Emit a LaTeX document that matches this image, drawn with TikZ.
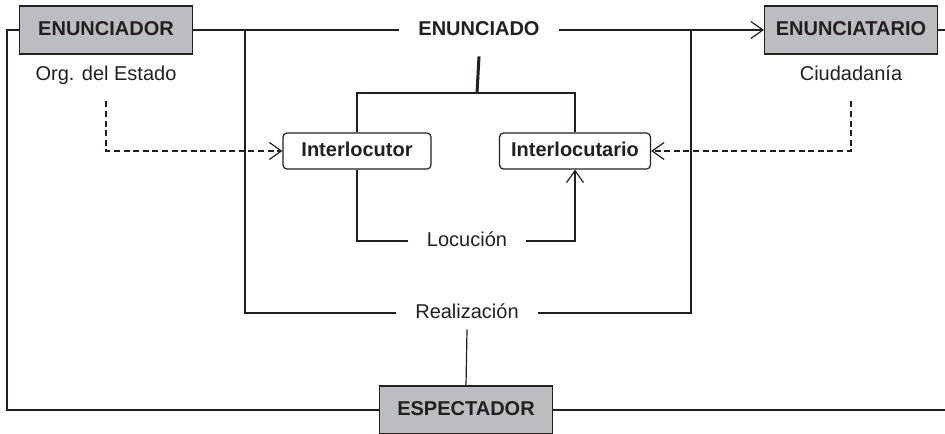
\documentclass[tikz,border=0pt]{standalone}
\usepackage{fontspec}
\setmainfont{Liberation Sans}
\usetikzlibrary{positioning,arrows.meta}
\usepackage{xcolor}
\definecolor{boxgray}{HTML}{BCBDC0}
\definecolor{ink}{HTML}{231F20}

\tikzset{
  actor/.style={rectangle,draw=ink,fill=boxgray,line width=0.6pt,
    minimum width=86.5pt,minimum height=24pt,font=\bfseries},
  role/.style={rectangle,rounded corners=2pt,draw=ink,line width=0.6pt,
    minimum height=18pt,font=\bfseries},
  lbl/.style={inner xsep=9.5pt},
  link/.style={draw=ink,line width=0.6pt},
  tip/.style={-{Straight Barb[length=6pt,width=8.5pt]}},
  hint/.style={dash pattern=on 3pt off 1.8pt}
}

\begin{document}
\begin{tikzpicture}[x=0.5pt,y=-0.5pt,text height=7.2pt,text depth=2.1pt,
    every node/.append style={text=ink}]
        \useasboundingbox (0,0) rectangle (945,433);
        \node (enr) [actor] at (106,30) {ENUNCIADOR};
        \node (ent) [actor] at (851,30) {ENUNCIATARIO};
        \node (eno) [lbl,font=\bfseries] at (479,30) {ENUNCIADO};
        \node (org) at (106,75) {Org. del Estado};
        \node (ciu) at (851,75) {Ciudadanía};
        \node (ilr) [role,minimum width=74pt] at (357,151) {Interlocutor};
        \node (ilt) [role,minimum width=75.5pt] at (575,151) {Interlocutario};
        \node (loc) [lbl] at (467,241) {Locución};
        \node (rea) [lbl] at (467,313) {Realización};
        \node (esp) [actor] at (466,410) {ESPECTADOR};
        \coordinate (ll) at (245,30);
        \coordinate (rl) at (691,30);
        \coordinate (fork) at (477,93);
        \coordinate (re) at (945,30);
        \coordinate (be) at (945,410);
        % frame
        \draw[link] (enr.west) -- ++(-12,0) |- (esp.west);
        \draw[link] (esp.east) -- (be);
        \draw[link] (ent.east) -- (re);
        \draw[link] (enr.east) -- (eno.west);
        \draw[link,tip] (eno.east) -- (ent.west);
        \draw[link] (ll) |- (rea.west);
        \draw[link] (rl) |- (rea.east);
        \draw[link] (rea.south) -- (esp.north);
        % enunciado
        \draw[draw=ink,line width=1.5pt] ([yshift=-5pt]eno.south) -- (fork);
        \draw[link] (ilr.north) |- (fork) -| (ilt.north);
        \draw[link] (ilr.south) |- (loc.west);
        \draw[link,tip] (loc.east) -| (ilt.south);
        \draw[link,hint,tip] ([yshift=-5pt]org.south) |- (ilr.west);
        \draw[link,hint,tip] ([yshift=-5pt]ciu.south) |- (ilt.east);
\end{tikzpicture}
\end{document}
